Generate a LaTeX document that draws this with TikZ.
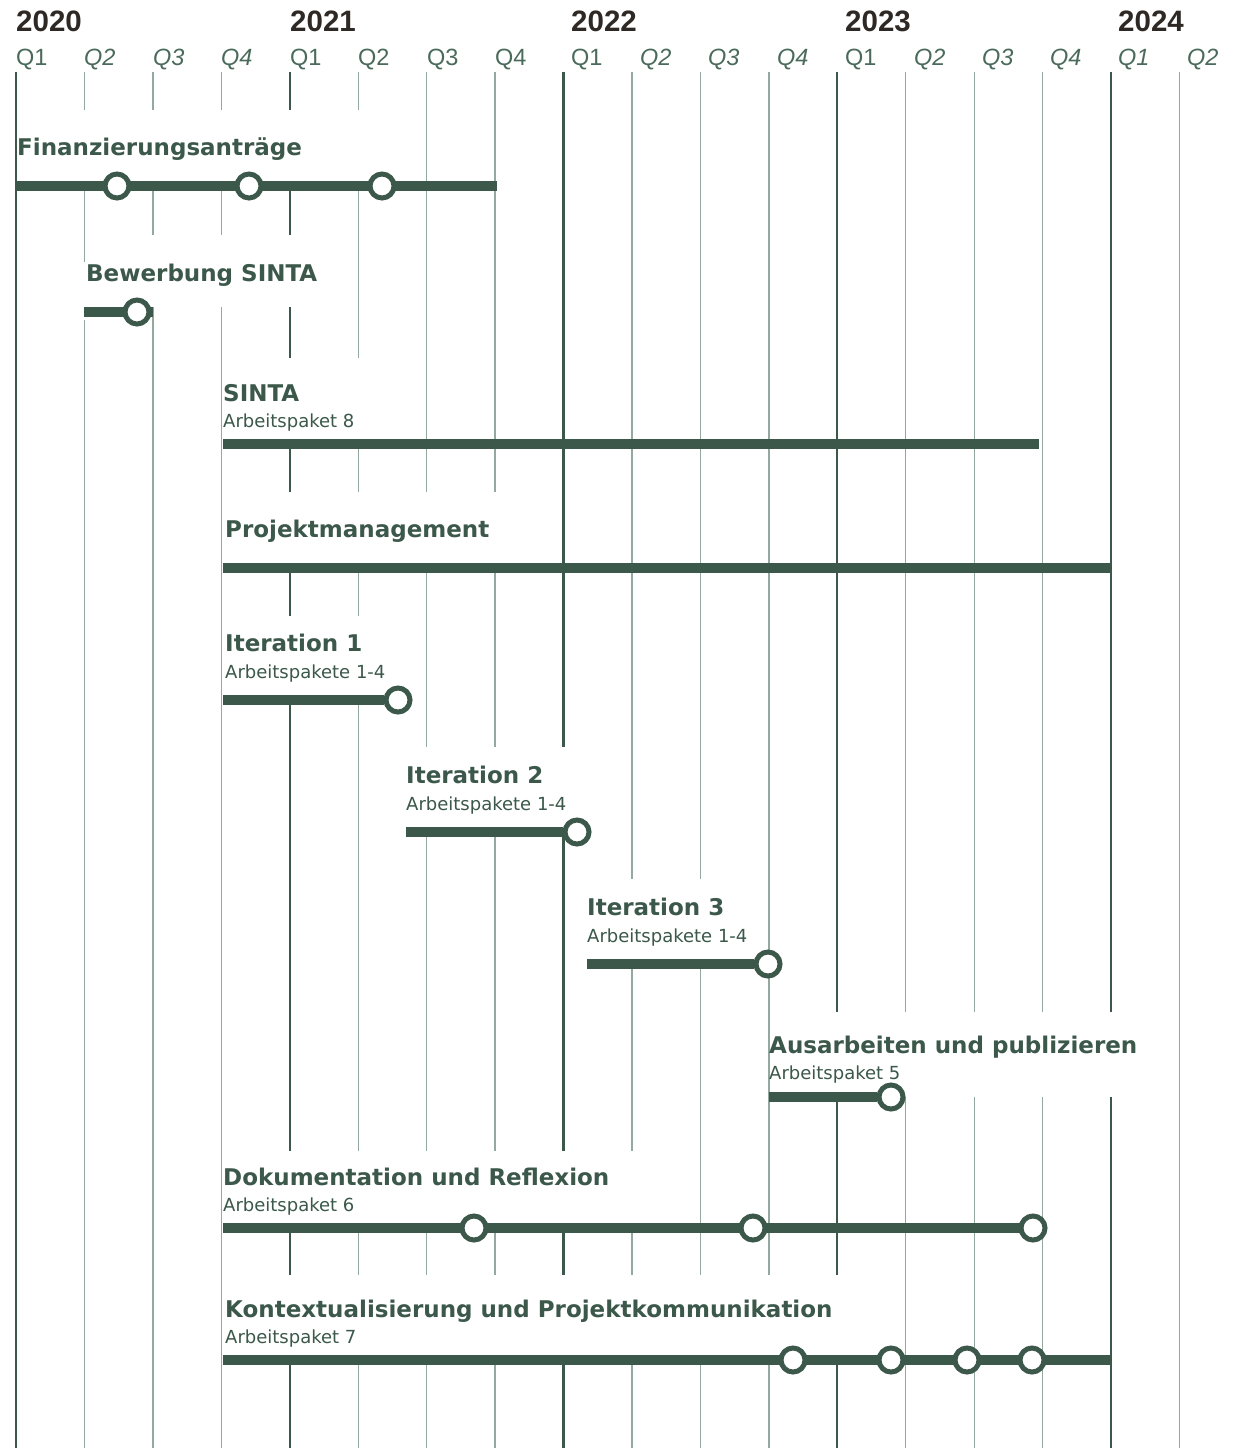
\documentclass[tikz,border=0pt]{standalone}
\usepackage{fontspec}
\setmainfont{DejaVu Sans}
\newfontfamily\qfont{Liberation Sans}
\definecolor{ink}{HTML}{3B584A}
\definecolor{gridc}{HTML}{93A89F}
\definecolor{qcol}{HTML}{4A6A5B}
\definecolor{yearc}{HTML}{2E2925}
\tikzset{
  yearline/.style={draw=ink, line width=2.2pt},
  qline/.style={draw=gridc, line width=1.3pt},
  bar/.style={draw=ink, line width=10.5pt},
  ms/.style={circle, draw=ink, fill=white, line width=5pt, minimum size=24pt, inner sep=0pt},
  labtitle/.style={anchor=base west, inner sep=0pt, text=ink, font=\fontsize{23}{28}\selectfont\bfseries},
  labsub/.style={anchor=base west, inner sep=0pt, text=ink, font=\fontsize{18}{22}\selectfont},
  qlab/.style={anchor=base west, inner sep=0pt, text=qcol, font=\qfont\fontsize{23.5}{28}\selectfont},
  yearlab/.style={anchor=base west, inner sep=0pt, text=yearc, font=\qfont\bfseries\fontsize{29.5}{32}\selectfont},
  mask/.style={fill=white},
}
\begin{document}
\begin{tikzpicture}[x=1pt,y=-1pt]
\useasboundingbox (0,0) rectangle (1237,1448);

% grid lines
\foreach \i in {1,2,3,5,6,7,9,10,11,13,14,15,17}
  \draw[qline] ({16+\i*68.44},72) -- ({16+\i*68.44},1448);
\foreach \i in {0,4,8,12,16}
  \draw[yearline] ({16+\i*68.44},72) -- ({16+\i*68.44},1448);

% header labels
\node[yearlab] (y2020) at (16,31) {2020};
\node[yearlab] (y2021) at (290,31) {2021};
\node[yearlab] (y2022) at (571,31) {2022};
\node[yearlab] (y2023) at (845,31) {2023};
\node[yearlab] (y2024) at (1118,31) {2024};

\node[qlab] (q0) at (16,65) {Q1};
\node[qlab] (q1) at (84,65) {\itshape Q2};
\node[qlab] (q2) at (153,65) {\itshape Q3};
\node[qlab] (q3) at (221,65) {\itshape Q4};
\node[qlab] (q4) at (290,65) {Q1};
\node[qlab] (q5) at (358,65) {Q2};
\node[qlab] (q6) at (427,65) {Q3};
\node[qlab] (q7) at (495,65) {Q4};
\node[qlab] (q8) at (571,65) {Q1};
\node[qlab] (q9) at (640,65) {\itshape Q2};
\node[qlab] (q10) at (708,65) {\itshape Q3};
\node[qlab] (q11) at (777,65) {\itshape Q4};
\node[qlab] (q12) at (845,65) {Q1};
\node[qlab] (q13) at (914,65) {\itshape Q2};
\node[qlab] (q14) at (982,65) {\itshape Q3};
\node[qlab] (q15) at (1050,65) {\itshape Q4};
\node[qlab] (q16) at (1118,65) {\itshape Q1};
\node[qlab] (q17) at (1187,65) {\itshape Q2};

% white label backgrounds breaking the grid
\fill[mask] (18,110) rectangle (400,186);
\fill[mask] (86,235) rectangle (330,307);
\fill[mask] (80,262) rectangle (86,320);
\fill[mask] (224,358) rectangle (400,444);
\fill[mask] (224,492) rectangle (530,568);
\fill[mask] (224,616) rectangle (400,700);
\fill[mask] (404,747) rectangle (600,832);
\fill[mask] (585,879) rectangle (725,964);
\fill[mask] (771,1012) rectangle (1150,1097);
\fill[mask] (224,1151) rectangle (665,1228);
\fill[mask] (224,1275) rectangle (870,1360);

% Row 1: Finanzierungsantraege
\node[labtitle] (t1) at (17,155.5) {Finanzierungsanträge};
\coordinate (b1s) at (16,186); \coordinate (b1e) at (497,186);
\draw[bar] (b1s) -- (b1e);
\node[ms] (m1a) at (117,186) {};
\node[ms] (m1b) at (249,186) {};
\node[ms] (m1c) at (382,186) {};

% Row 2: Bewerbung SINTA
\node[labtitle] (t2) at (86,281.5) {Bewerbung SINTA};
\coordinate (b2s) at (84,312); \coordinate (b2e) at (153,312);
\draw[bar] (b2s) -- (b2e);
\node[ms] (m2a) at (137,312) {};

% Row 3: SINTA
\node[labtitle] (t3) at (223,401.5) {SINTA};
\node[labsub] (s3) at (223,427.5) {Arbeitspaket 8};
\coordinate (b3s) at (223,444); \coordinate (b3e) at (1039,444);
\draw[bar] (b3s) -- (b3e);

% Row 4: Projektmanagement
\node[labtitle] (t4) at (225,537.5) {Projektmanagement};
\coordinate (b4s) at (223,568); \coordinate (b4e) at (1110,568);
\draw[bar] (b4s) -- (b4e);

% Row 5: Iteration 1
\node[labtitle] (t5) at (225,651.5) {Iteration 1};
\node[labsub] (s5) at (225,678.5) {Arbeitspakete 1-4};
\coordinate (b5s) at (223,700); \node[ms] (m5a) at (398,700) {};
\draw[bar] (b5s) -- (m5a);

% Row 6: Iteration 2
\node[labtitle] (t6) at (406,783.5) {Iteration 2};
\node[labsub] (s6) at (406,810.5) {Arbeitspakete 1-4};
\coordinate (b6s) at (406,832); \node[ms] (m6a) at (577,832) {};
\draw[bar] (b6s) -- (m6a);

% Row 7: Iteration 3
\node[labtitle] (t7) at (587,915.5) {Iteration 3};
\node[labsub] (s7) at (587,942.5) {Arbeitspakete 1-4};
\coordinate (b7s) at (587,964); \node[ms] (m7a) at (768,964) {};
\draw[bar] (b7s) -- (m7a);

% Row 8: Ausarbeiten und publizieren
\node[labtitle] (t8) at (769,1053.5) {Ausarbeiten und publizieren};
\node[labsub] (s8) at (769,1079.5) {Arbeitspaket 5};
\coordinate (b8s) at (769,1097); \node[ms] (m8a) at (891,1097) {};
\draw[bar] (b8s) -- (m8a);

% Row 9: Dokumentation und Reflexion
\node[labtitle] (t9) at (223,1185.5) {Dokumentation und Reflexion};
\node[labsub] (s9) at (223,1211.5) {Arbeitspaket 6};
\coordinate (b9s) at (223,1228); \coordinate (b9e) at (1033,1228);
\draw[bar] (b9s) -- (b9e);
\node[ms] (m9a) at (474,1228) {};
\node[ms] (m9b) at (753,1228) {};
\node[ms] (m9c) at (b9e) {};

% Row 10: Kontextualisierung und Projektkommunikation
\node[labtitle] (t10) at (225,1317.5) {Kontextualisierung und Projektkommunikation};
\node[labsub] (s10) at (225,1343.5) {Arbeitspaket 7};
\coordinate (b10s) at (223,1360); \coordinate (b10e) at (1110,1360);
\draw[bar] (b10s) -- (b10e);
\node[ms] (m10a) at (793,1360) {};
\node[ms] (m10b) at (891,1360) {};
\node[ms] (m10c) at (967,1360) {};
\node[ms] (m10d) at (1032,1360) {};
\end{tikzpicture}
\end{document}
